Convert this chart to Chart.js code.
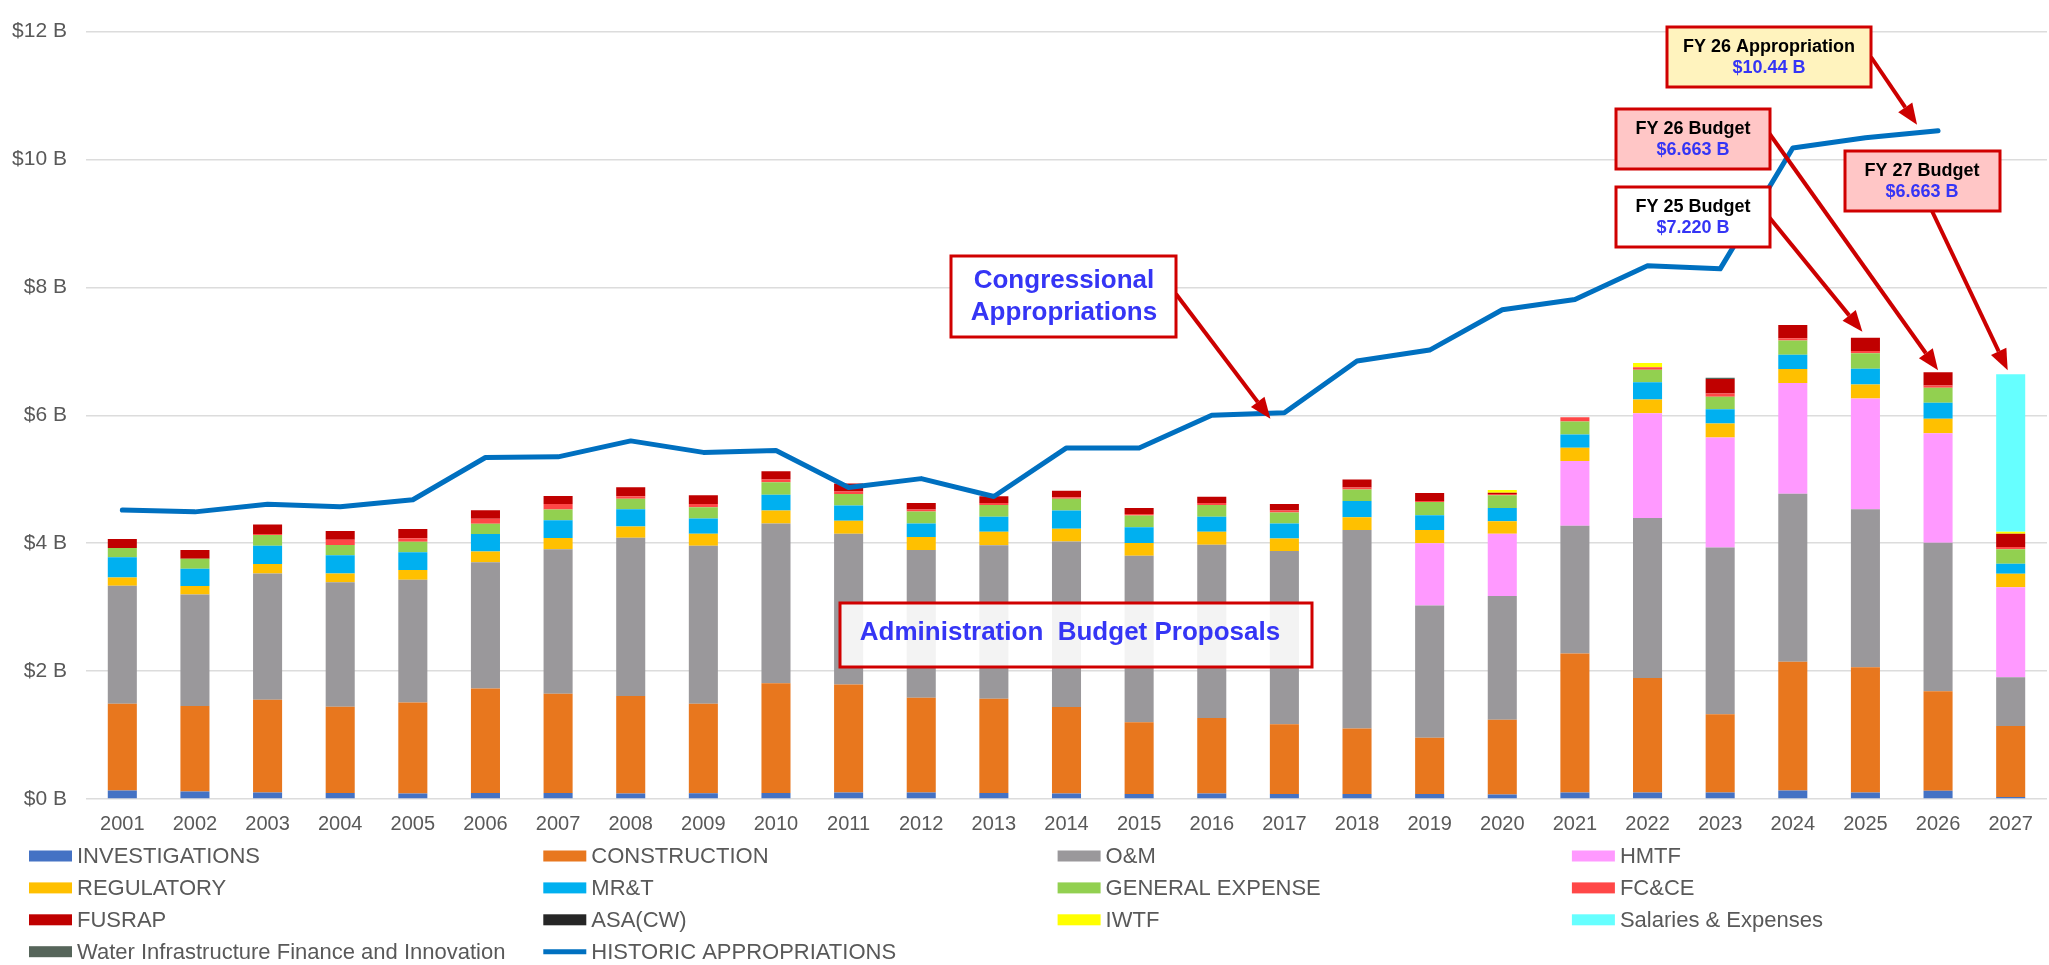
<!DOCTYPE html>
<html>
<head>
<meta charset="utf-8">
<script src="https://cdn.jsdelivr.net/npm/chart.js@4.4.1/dist/chart.umd.min.js"></script>
<style>
  body { margin: 0; background: #fff; }
  canvas { display: block; }
</style>
</head>
<body>
<canvas id="budgetChart" width="2049" height="965"></canvas>
<script>
// values in $ billions
const years = ['2001','2002','2003','2004','2005','2006','2007','2008','2009','2010','2011','2012','2013','2014',
               '2015','2016','2017','2018','2019','2020','2021','2022','2023','2024','2025','2026','2027'];

const investigations = [0.134,0.118,0.103,0.093,0.087,0.093,0.093,0.087,0.090,0.093,0.103,0.103,0.093,0.087,
                        0.077,0.087,0.077,0.077,0.077,0.072,0.103,0.103,0.103,0.134,0.103,0.129,0.031];
const construction = [1.356,1.335,1.449,1.350,1.423,1.634,1.552,1.522,1.400,1.717,1.687,1.479,1.474,1.351,
                      1.123,1.180,1.091,1.024,0.879,1.169,2.173,1.790,1.221,2.012,1.956,1.557,1.112];
const oAndM = [1.846,1.743,1.976,1.945,1.919,1.976,2.260,2.477,2.472,2.499,2.359,2.313,2.400,2.587,
               2.602,2.710,2.711,3.104,2.069,1.934,1.996,2.503,2.607,2.628,2.473,2.322,0.760];
const hmtf = [0,0,0,0,0,0,0,0,0,0,0,0,0,0,
              0,0,0,0,0.973,0.973,1.014,1.635,1.722,1.733,1.731,1.712,1.407];
const regulatory = [0.129,0.135,0.145,0.140,0.150,0.166,0.176,0.176,0.186,0.201,0.201,0.201,0.212,0.201,
                    0.201,0.202,0.196,0.202,0.207,0.197,0.207,0.217,0.218,0.217,0.217,0.228,0.212];
const mrt = [0.316,0.269,0.289,0.284,0.280,0.274,0.279,0.269,0.238,0.248,0.238,0.213,0.233,0.284,
             0.248,0.233,0.234,0.253,0.233,0.206,0.207,0.269,0.222,0.222,0.248,0.248,0.155];
const generalExpense = [0.145,0.155,0.166,0.161,0.165,0.160,0.166,0.166,0.176,0.197,0.181,0.186,0.186,0.187,
                        0.181,0.186,0.170,0.181,0.206,0.197,0.202,0.197,0.196,0.222,0.243,0.233,0.228];
const fcce = [0,0,0.015,0.082,0.052,0.078,0.088,0.036,0.052,0.042,0.041,0.031,0.031,0.020,
              0.025,0.031,0.031,0.031,0.016,0.021,0.066,0.036,0.052,0.036,0.036,0.036,0.036];
const fusrap = [0.139,0.140,0.150,0.135,0.145,0.134,0.124,0.140,0.134,0.129,0.124,0.103,0.104,0.104,
                0.094,0.098,0.104,0.125,0.124,0.021,0,0,0.228,0.207,0.207,0.207,0.207];
const asaCw = [0,0,0,0,0,0,0,0,0,0,0,0,0,0,0,0,0,0,0,0,0,0,0,0,0,0,0];
const iwtf = [0,0,0,0,0,0,0,0,0,0,0,0,0,0,0,0,0,0,0,0.041,0,0.067,0,0,0,0,0.032];
const salaries = [0,0,0,0,0,0,0,0,0,0,0,0,0,0,0,0,0,0,0,0,0,0,0,0,0,0,2.460];
const wifia = [0,0,0,0,0,0,0,0,0,0,0,0,0,0,0,0,0,0,0,0,0,0,0.020,0,0,0,0];

const appropriations = [4.52,4.49,4.61,4.57,4.68,5.34,5.35,5.60,5.42,5.45,4.87,5.01,4.73,5.49,
                        5.49,6.00,6.04,6.85,7.02,7.65,7.81,8.34,8.29,10.18,10.34,10.45,null];

const yTicks = [0, 2, 4, 6, 8, 10, 12];

const FONT = "'Liberation Sans', Arial, sans-serif";
const TEXT_GRAY = '#595959';

const barSeries = [
    ['INVESTIGATIONS', investigations, '#4472C4'],
    ['CONSTRUCTION', construction, '#E8771E'],
    ['O&M', oAndM, '#9A989B'],
    ['HMTF', hmtf, '#FF99FF'],
    ['REGULATORY', regulatory, '#FFC000'],
    ['MR&T', mrt, '#00B0F0'],
    ['GENERAL EXPENSE', generalExpense, '#92D050'],
    ['FC&CE', fcce, '#FF4747'],
    ['FUSRAP', fusrap, '#C00000'],
    ['ASA(CW)', asaCw, '#262626'],
    ['IWTF', iwtf, '#FFFF00'],
    ['Salaries & Expenses', salaries, '#66FFFF'],
    ['Water Infrastructure Finance and Innovation', wifia, '#56655A']
];

const totals = years.map((_, i) => barSeries.reduce((s, d) => s + d[1][i], 0));

function arrow(ctx, x1, y1, x2, y2) {
    const a = Math.atan2(y2 - y1, x2 - x1);
    const head = 21, hw = 8.5;
    const bx = x2 - head * Math.cos(a), by = y2 - head * Math.sin(a);
    ctx.strokeStyle = '#CC0000';
    ctx.fillStyle = '#CC0000';
    ctx.lineWidth = 4;
    ctx.beginPath();
    ctx.moveTo(x1, y1);
    ctx.lineTo(bx, by);
    ctx.stroke();
    ctx.beginPath();
    ctx.moveTo(x2, y2);
    ctx.lineTo(bx + hw * Math.sin(a), by - hw * Math.cos(a));
    ctx.lineTo(bx - hw * Math.sin(a), by + hw * Math.cos(a));
    ctx.closePath();
    ctx.fill();
}

function box(ctx, x, y, w, h, fill) {
    ctx.fillStyle = fill;
    ctx.fillRect(x, y, w, h);
    ctx.strokeStyle = '#D00000';
    ctx.lineWidth = 3;
    ctx.strokeRect(x, y, w, h);
}

function twoLines(ctx, cx, top, l1, l2) {
    ctx.textAlign = 'center';
    ctx.textBaseline = 'middle';
    ctx.font = 'bold 18px ' + FONT;
    ctx.fillStyle = '#000';
    ctx.fillText(l1, cx, top + 20);
    ctx.fillStyle = '#3535F5';
    ctx.fillText(l2, cx, top + 41);
}

const annotations = {
    id: 'annotations',
    afterDatasetsDraw(chart) {
        const ctx = chart.ctx;
        const x = chart.scales.x, y = chart.scales.y;
        ctx.save();

        // arrows first, boxes on top of their tails
        arrow(ctx, 1176, 294, x.getPixelForValue(16) - 14, y.getPixelForValue(appropriations[16]) + 6);
        arrow(ctx, 1871, 57, x.getPixelForValue(25) - 21, y.getPixelForValue(appropriations[25]) - 6);
        arrow(ctx, 1769, 133, x.getPixelForValue(25), y.getPixelForValue(totals[25]) - 2);
        arrow(ctx, 1769, 217, x.getPixelForValue(24) - 3, y.getPixelForValue(totals[24]) - 6);
        arrow(ctx, 1932, 211, x.getPixelForValue(26) - 3, y.getPixelForValue(totals[26]) - 4);

        box(ctx, 951, 256, 225, 81, '#FFFFFF');
        ctx.textAlign = 'center';
        ctx.textBaseline = 'middle';
        ctx.font = 'bold 26px ' + FONT;
        ctx.fillStyle = '#3535F5';
        ctx.fillText('Congressional', 1064, 281);
        ctx.fillText('Appropriations', 1064, 313);

        box(ctx, 840, 603, 472, 64, 'rgba(255,255,255,0.88)');
        ctx.font = 'bold 26px ' + FONT;
        ctx.fillStyle = '#3535F5';
        ctx.fillText('Administration  Budget Proposals', 1070, 633);

        box(ctx, 1667, 27, 204, 60, '#FFF3BE');
        twoLines(ctx, 1769, 27, 'FY 26 Appropriation', '$10.44 B');
        box(ctx, 1616, 109, 154, 60, '#FFC6C6');
        twoLines(ctx, 1693, 109, 'FY 26 Budget', '$6.663 B');
        box(ctx, 1616, 187, 154, 60, '#FFFFFF');
        twoLines(ctx, 1693, 187, 'FY 25 Budget', '$7.220 B');
        box(ctx, 1845, 151, 155, 60, '#FFC6C6');
        twoLines(ctx, 1922, 151, 'FY 27 Budget', '$6.663 B');

        ctx.restore();
    }
};

// four-column legend under the axis
const gridLegend = {
    id: 'gridLegend',
    afterDraw(chart) {
        const ctx = chart.ctx;
        ctx.save();
        ctx.font = '22px ' + FONT;
        ctx.textAlign = 'left';
        ctx.textBaseline = 'middle';
        chart.data.datasets.forEach((ds, i) => {
            const lx = 29 + (i % 4) * 514.3;
            const ly = 856 + Math.floor(i / 4) * 31.9;
            if (ds.type === 'line') {
                ctx.strokeStyle = ds.borderColor;
                ctx.lineWidth = 5;
                ctx.beginPath();
                ctx.moveTo(lx, ly);
                ctx.lineTo(lx + 43, ly);
                ctx.stroke();
            } else {
                ctx.fillStyle = ds.backgroundColor;
                ctx.fillRect(lx, ly - 5.5, 43, 11);
            }
            ctx.fillStyle = TEXT_GRAY;
            ctx.fillText(ds.label, lx + 48, ly + 1);
        });
        ctx.restore();
    }
};

const datasets = barSeries.map(([label, data, color]) => ({
    type: 'bar',
    label: label,
    data: data,
    backgroundColor: color,
    borderWidth: 0,
    barPercentage: 0.4,
    categoryPercentage: 1.0,
    order: 1
}));
datasets.push({
    type: 'line',
    label: 'HISTORIC APPROPRIATIONS',
    data: appropriations,
    borderColor: '#0070C0',
    backgroundColor: '#0070C0',
    borderWidth: 5,
    pointRadius: 0,
    tension: 0,
    fill: false,
    borderJoinStyle: 'round',
    borderCapStyle: 'round',
    order: 0
});

new Chart(document.getElementById('budgetChart').getContext('2d'), {
    type: 'bar',
    data: { labels: years, datasets: datasets },
    options: {
        responsive: false,
        devicePixelRatio: 1,
        animation: false,
        layout: { padding: { top: 26, right: 2, left: 0, bottom: 0 } },
        plugins: {
            legend: { display: false },
            tooltip: { enabled: false }
        },
        scales: {
            x: {
                stacked: true,
                grid: { display: false, drawTicks: false },
                border: { display: false },
                ticks: { color: TEXT_GRAY, font: { family: FONT, size: 20 }, padding: 13, maxRotation: 0 },
                afterFit: (scale) => { scale.height = 166; }
            },
            y: {
                stacked: true,
                min: yTicks[0],
                max: yTicks[yTicks.length - 1],
                afterBuildTicks: (scale) => { scale.ticks = yTicks.map(v => ({ value: v })); },
                grid: { color: '#DCDCDC', lineWidth: 1.5, drawTicks: false },
                border: { display: false },
                ticks: {
                    color: TEXT_GRAY,
                    font: { family: FONT, size: 21 },
                    padding: 19,
                    callback: (v) => '$' + v + ' B'
                },
                afterFit: (scale) => { scale.width = 86; }
            }
        }
    },
    plugins: [annotations, gridLegend]
});
</script>
</body>
</html>
